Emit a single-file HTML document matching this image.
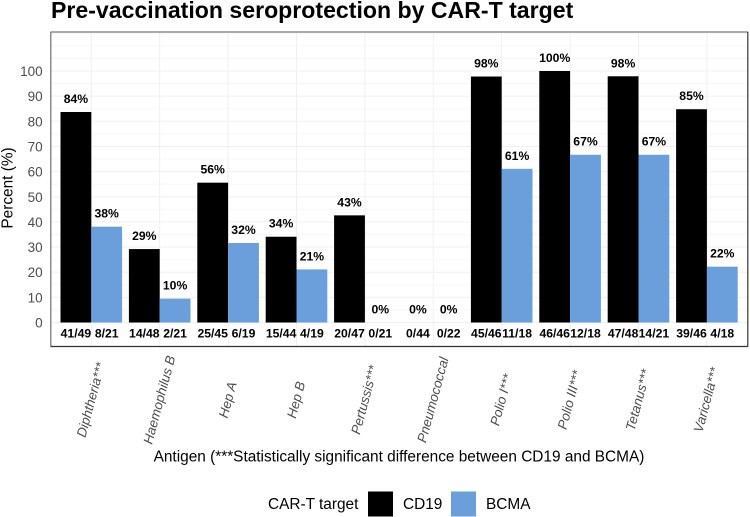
<!DOCTYPE html>
<html lang="en">
<head>
<meta charset="utf-8">
<title>Pre-vaccination seroprotection by CAR-T target</title>
<style>
html,body{margin:0;padding:0;background:#fff}
svg{display:block;font-family:"Liberation Sans",Arial,sans-serif}
</style>
</head>
<body>
<svg id="chart" xmlns="http://www.w3.org/2000/svg" width="750" height="517" viewBox="0 0 750 517">
<rect x="0" y="0" width="750" height="517" fill="#ffffff"/>
<text x="51" y="18" font-size="23.1" font-weight="700" fill="#000000">Pre-vaccination seroprotection by CAR-T target</text>
<g id="grid"></g>
<g id="bars"></g>
<g id="labels"></g>
<g>
<line x1="50.5" x2="748" y1="32" y2="32" stroke="#7a7a7a" stroke-width="1.2"/>
<line x1="50.8" x2="50.8" y1="32" y2="346.5" stroke="#6e6e6e" stroke-width="1.2"/>
<line x1="50.5" x2="748" y1="346.5" y2="346.5" stroke="#333333" stroke-width="1.2"/>
<line x1="747.8" x2="747.8" y1="32" y2="346.5" stroke="#333333" stroke-width="1.2"/>
</g>
<g id="yticks"></g>
<g id="xticks"></g>
<text transform="translate(12.5,188) rotate(-90)" text-anchor="middle" font-size="15.4" fill="#000000">Percent (%)</text>
<text x="399" y="461.5" text-anchor="middle" font-size="15.4" fill="#000000">Antigen (***Statistically significant difference between CD19 and BCMA)</text>
<g>
<text x="268" y="509" font-size="15.4" fill="#000000">CAR-T target</text>
<rect x="368" y="491.5" width="25" height="25" fill="#000000"/>
<text x="403" y="509" font-size="15.4" fill="#000000">CD19</text>
<rect x="451" y="491.5" width="25" height="25" fill="#6a9fdb"/>
<text x="486" y="509" font-size="15.4" fill="#000000">BCMA</text>
</g>
</svg>
<script>
const categories = ["Diphtheria***","Haemophilus B","Hep A","Hep B","Pertussis***","Pneumococcal","Polio I***","Polio III***","Tetanus***","Varicella***"];
const cd19Values = [83.7,29.2,55.6,34.1,42.6,0,97.8,100,97.9,84.8];
const bcmaValues = [38.1,9.5,31.6,21.1,0,0,61.1,66.7,66.7,22.2];
const cd19Fractions = ["41/49","14/48","25/45","15/44","20/47","0/44","45/46","46/46","47/48","39/46"];
const bcmaFractions = ["8/21","2/21","6/19","4/19","0/21","0/22","11/18","12/18","14/21","4/18"];
const yTicks = [0,10,20,30,40,50,60,70,80,90,100];
const yMinorTicks = [5,15,25,35,45,55,65,75,85,95,105,110,115];

const NS = 'http://www.w3.org/2000/svg';
const xScale = function (i) { return 91.3 + i * 68.4; };
const yScale = function (v) { return 322.5 - v * 2.515; };
const BAR_W = 30.8;
const PANEL_L = 50.5, PANEL_R = 748, PANEL_T = 32, PANEL_B = 346.5;

function make(tag, parentId, attrs, text) {
  const el = document.createElementNS(NS, tag);
  for (const k in attrs) el.setAttribute(k, attrs[k]);
  if (text !== undefined) el.textContent = text;
  document.getElementById(parentId).appendChild(el);
  return el;
}
function slug(s) {
  return s.replace(/\*/g, '').trim().toLowerCase().replace(/\s+/g, '-');
}

yMinorTicks.forEach(function (v) {
  const el = make('line', 'grid', {x1: PANEL_L, x2: PANEL_R, y1: yScale(v), y2: yScale(v), stroke: '#f5f5f5', 'stroke-width': 0.8});
  
  
});
yTicks.forEach(function (v) {
  const el = make('line', 'grid', {x1: PANEL_L, x2: PANEL_R, y1: yScale(v), y2: yScale(v), stroke: '#f0f0f0', 'stroke-width': 1});
  
  
  const t = make('text', 'yticks', {x: 42.7, y: yScale(v) + 5, 'text-anchor': 'end', 'font-size': 13.5, fill: '#4d4d4d'}, String(v));
  
  
});

categories.forEach(function (c, i) {
  const cx = xScale(i);
  const g = make('line', 'grid', {x1: cx, x2: cx, y1: PANEL_T, y2: PANEL_B, stroke: '#f0f0f0', 'stroke-width': 1});
  
  

  const b1 = make('rect', 'bars', {x: cx - BAR_W, y: yScale(cd19Values[i]), width: BAR_W, height: yScale(0) - yScale(cd19Values[i]), fill: '#000000'});
  
  
  const b2 = make('rect', 'bars', {x: cx, y: yScale(bcmaValues[i]), width: BAR_W, height: yScale(0) - yScale(bcmaValues[i]), fill: '#6a9fdb'});
  
  

  const hasCd19 = cd19Values[i] > 0 || c === 'Pneumococcal';
  if (hasCd19) {
    const l1 = make('text', 'labels', {x: cx - BAR_W / 2, y: yScale(cd19Values[i]) - 9, 'text-anchor': 'middle', 'font-size': 12.2, 'font-weight': 700, fill: '#000000'}, Math.round(cd19Values[i]) + '%');
    
    
  }
  const l2 = make('text', 'labels', {x: cx + BAR_W / 2, y: yScale(bcmaValues[i]) - 9, 'text-anchor': 'middle', 'font-size': 12.2, 'font-weight': 700, fill: '#000000'}, Math.round(bcmaValues[i]) + '%');
  
  

  const f1 = make('text', 'labels', {x: cx - BAR_W / 2, y: 337.5, 'text-anchor': 'middle', 'font-size': 12.2, 'font-weight': 700, fill: '#000000'}, cd19Fractions[i]);
  
  
  const f2 = make('text', 'labels', {x: cx + BAR_W / 2, y: 337.5, 'text-anchor': 'middle', 'font-size': 12.2, 'font-weight': 700, fill: '#000000'}, bcmaFractions[i]);
  
  

  const t = make('text', 'xticks', {transform: 'translate(' + (cx + 4) + ',401) rotate(-75)', 'text-anchor': 'middle', 'font-size': 13.4, 'font-style': 'italic', fill: '#4d4d4d'}, c);
  
  
});
</script>
</body>
</html>
